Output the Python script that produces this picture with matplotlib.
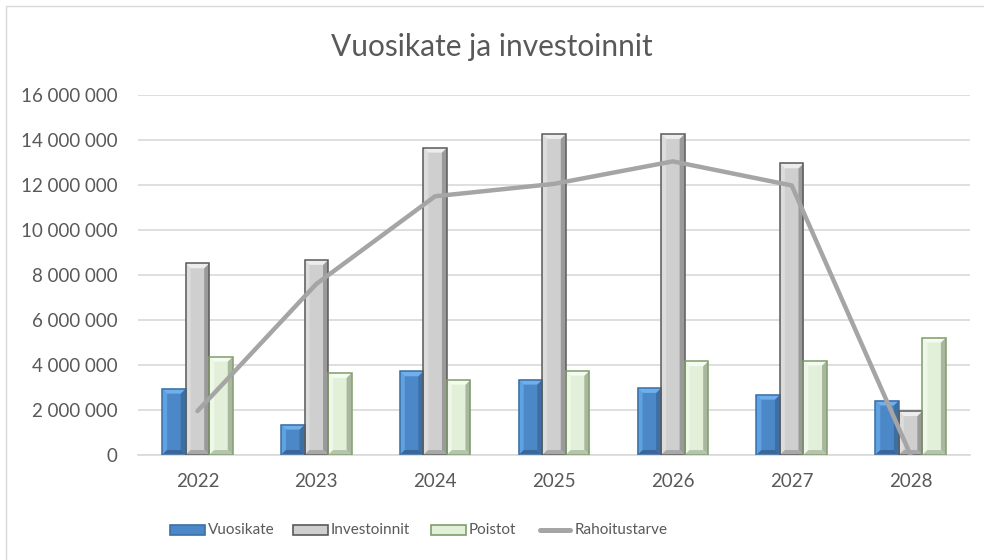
import matplotlib.pyplot as plt
from matplotlib.patches import Polygon, Rectangle
from matplotlib.ticker import FuncFormatter
import numpy as np

plt.rcParams['font.family'] = ['Lato', 'DejaVu Sans']

years = ['2022', '2023', '2024', '2025', '2026', '2027', '2028']
vuosikate = [2950000, 1350000, 3720000, 3350000, 2980000, 2680000, 2420000]
investoinnit = [8520000, 8670000, 13660000, 14270000, 14270000, 12960000, 1950000]
poistot = [4370000, 3650000, 3350000, 3750000, 4170000, 4200000, 5220000]
rahoitustarve = [1950000, 7600000, 11500000, 12050000, 13050000, 11980000, 0]

# (reuna, vasen viiste, keski, oikea viiste, yläviiste, alaviiste)
tyylit = [
    ('#3B6FA3', '#5EA2E2', '#4C88C8', '#3D6FA3', '#6FB0EC', '#3A679A'),
    ('#5A5A5A', '#DCDCDC', '#CFCFCF', '#9A9A9A', '#EDEDED', '#A8A8A8'),
    ('#7F9D6B', '#EEF7E8', '#E2F0D9', '#A9B79E', '#F6FBF2', '#B7C4AD'),
]

fig = plt.figure(figsize=(9.84, 5.6), dpi=100)
fig.patches.append(Rectangle((6 / 984, -0.01), 1.0, 1 - 6 / 560 + 0.01,
                             transform=fig.transFigure, fill=False,
                             edgecolor='#D9D9D9', linewidth=1))
ax = fig.add_axes([138 / 984, 105 / 560, 832 / 984, 360 / 560])

x = np.arange(len(years))
w = 0.198
bx = 0.042   # viisteen leveys (x)
by = 220000  # viisteen korkeus (y)


def viistepylvas(x0, h, tyyli):
    reuna, vasen, keski, oikea, yla, ala = tyyli
    b = min(by, h / 2)
    ax.add_patch(Rectangle((x0, 0), w, h, facecolor=keski, edgecolor='none', zorder=2))
    ax.add_patch(Polygon([(x0, 0), (x0, h), (x0 + bx, h - b), (x0 + bx, b)],
                         facecolor=vasen, edgecolor='none', zorder=2))
    ax.add_patch(Polygon([(x0 + w, 0), (x0 + w, h), (x0 + w - bx, h - b), (x0 + w - bx, b)],
                         facecolor=oikea, edgecolor='none', zorder=2))
    ax.add_patch(Polygon([(x0, h), (x0 + w, h), (x0 + w - bx, h - b), (x0 + bx, h - b)],
                         facecolor=yla, edgecolor='none', zorder=2))
    ax.add_patch(Polygon([(x0, 0), (x0 + w, 0), (x0 + w - bx, b), (x0 + bx, b)],
                         facecolor=ala, edgecolor='none', zorder=2))
    ax.add_patch(Rectangle((x0, 0), w, h, fill=False, edgecolor=reuna, linewidth=1.1, zorder=3))


for i, sarja in enumerate([vuosikate, investoinnit, poistot]):
    for xi, h in zip(x, sarja):
        viistepylvas(xi + (i - 1.5) * w, h, tyylit[i])

ax.plot(x, rahoitustarve, color='#A5A5A5', linewidth=3.2, solid_capstyle='round', zorder=4)

ax.set_xlim(-0.5, 6.5)
ax.set_ylim(0, 16000000)
ax.set_yticks(np.arange(0, 16000001, 2000000))
ax.yaxis.set_major_formatter(FuncFormatter(lambda v, p: f'{int(v):,}'.replace(',', ' ')))
ax.set_xticks(x)
ax.set_xticklabels(years)
ax.grid(axis='y', color='#D9D9D9', linewidth=1.2, zorder=0)
ax.set_axisbelow(True)
for s in ['top', 'right', 'left']:
    ax.spines[s].set_visible(False)
ax.spines['bottom'].set_color('#D9D9D9')
ax.spines['bottom'].set_linewidth(1.2)
ax.tick_params(axis='both', length=0, labelsize=13.5, colors='#595959')
ax.tick_params(axis='y', pad=15)
ax.tick_params(axis='x', pad=13)

fig.text(0.5, 1 - 47 / 560, 'Vuosikate ja investoinnit', ha='center', va='center',
         fontsize=21.5, color='#595959')

# selite
selite_y = 1 - 530 / 560
kohdat = [(170, 'Vuosikate', 0), (293, 'Investoinnit', 1), (431, 'Poistot', 2), (537, 'Rahoitustarve', None)]
for px, teksti, t in kohdat:
    if t is not None:
        reuna, vasen, keski, oikea, yla, ala = tyylit[t]
        fig.patches.append(Rectangle((px / 984, selite_y - 5 / 560), 35 / 984, 10 / 560,
                                     transform=fig.transFigure, facecolor=keski,
                                     edgecolor=reuna, linewidth=1.2))
    else:
        fig.add_artist(plt.Line2D([(px + 3) / 984, (px + 33) / 984], [selite_y, selite_y],
                                  transform=fig.transFigure, color='#A5A5A5', linewidth=3.6,
                                  solid_capstyle='round'))
    fig.text((px + 38) / 984, selite_y, teksti, ha='left', va='center',
             fontsize=11, color='#595959')

fig.savefig('out.png', dpi=100)
